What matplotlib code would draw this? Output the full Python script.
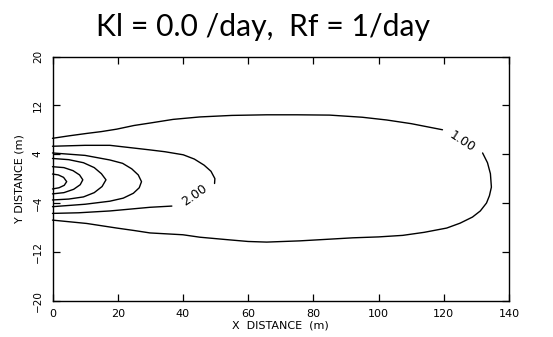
import matplotlib
matplotlib.use("Agg")
import matplotlib.pyplot as plt
from matplotlib import font_manager

# Concentration isolines of the plume, traced as (x, y) paths in metres.
# Lines broken by an inline label are split into separate pieces.
c1_top_x = [0.0, 5.0, 10.5, 15.0, 19.7, 25.0, 29.9, 37.0, 45.2, 55.0, 65.7, 75.0,
            85.0, 95.0, 102.5, 110.0, 119.6]
c1_top_y = [6.6, 7.0, 7.4, 7.7, 8.1, 8.7, 9.1, 9.7, 10.1, 10.35, 10.45, 10.45,
            10.4, 10.05, 9.6, 9.0, 8.0]
c1_rest_x = [131.9, 133.4, 134.3, 134.6, 134.0, 133.1, 131.2, 128.8, 125.0, 120.9,
             114.0, 107.4, 100.0, 92.1, 84.0, 75.8, 65.7, 60.0, 53.5, 45.2, 40.0,
             29.9, 25.0, 19.7, 10.5, 0.0]
c1_rest_y = [4.2, 2.6, 0.8, -1.4, -2.8, -4.0, -5.3, -6.3, -7.3, -8.1,
             -8.8, -9.3, -9.55, -9.7, -9.95, -10.2, -10.4, -10.3, -10.0, -9.6, -9.2,
             -8.9, -8.5, -8.1, -7.35, -6.8]

c2_top_x = [0.0, 10.0, 17.6, 25.0, 29.9, 34.5, 40.1, 43.5, 46.5, 48.6, 49.8, 49.7]
c2_top_y = [5.3, 5.45, 5.45, 5.0, 4.7, 4.4, 3.9, 3.2, 2.2, 1.2, 0.0, -0.8]
c2_bot_x = [36.6, 29.9, 17.6, 8.0, 0.0]
c2_bot_y = [-4.5, -4.7, -5.3, -5.6, -5.7]

c3_x = [0.0, 10.0, 17.6, 21.5, 24.3, 26.3, 27.3, 26.6, 24.8, 21.7, 17.6, 10.0, 0.0]
c3_y = [4.2, 3.8, 3.05, 2.5, 1.6, 0.6, -0.5, -1.5, -2.4, -3.2, -3.7, -4.2, -4.6]

c4_x = [0.0, 5.0, 9.5, 12.8, 15.0, 16.4, 15.2, 12.8, 9.5, 5.0, 0.0]
c4_y = [3.3, 3.1, 2.6, 1.8, 0.8, -0.2, -1.3, -2.3, -3.0, -3.35, -3.5]

c5_x = [0.0, 3.5, 6.3, 8.3, 9.3, 8.5, 6.5, 3.5, 0.0]
c5_y = [1.95, 1.8, 1.3, 0.6, -0.2, -1.0, -1.75, -2.3, -2.5]

c6_x = [0.0, 1.8, 3.4, 4.35, 3.6, 2.0, 0.0]
c6_y = [0.75, 0.6, 0.2, -0.5, -1.1, -1.5, -1.7]

# Inline contour labels: text, position, rotation
label_text = ["1.00", "2.00"]
label_x = [125.8, 43.7]
label_y = [6.1, -2.7]
label_rot = [-33, 35]

x_ticks = [0, 20, 40, 60, 80, 100, 120, 140]
y_ticks = [-20, -12, -4, 4, 12, 20]
y_tick_labels = ["\u221220", "\u221212", "\u22124", "4", "12", "20"]

title = "Kl = 0.0 /day,  Rf = 1/day"
x_label = "X  DISTANCE  (m)"
y_label = "Y DISTANCE (m)"

installed = {f.name for f in font_manager.fontManager.ttflist}
narrow = ["Liberation Sans Narrow", "DejaVu Sans"] if "Liberation Sans Narrow" in installed else ["DejaVu Sans"]
title_family = ["Lato", "DejaVu Sans"] if "Lato" in installed else ["DejaVu Sans"]

W, H = 553, 337
fig = plt.figure(figsize=(W / 100, H / 100), dpi=100)
ax = fig.add_axes([52.5 / W, 1 - 300.7 / H, (509 - 52.5) / W, (300.7 - 56.5) / H])

paths = [
    (c1_top_x, c1_top_y), (c1_rest_x, c1_rest_y),
    (c2_top_x, c2_top_y), (c2_bot_x, c2_bot_y),
    (c3_x, c3_y), (c4_x, c4_y), (c5_x, c5_y), (c6_x, c6_y),
]
for px, py in paths:
    ax.plot(px, py, color="black", lw=1.0, solid_joinstyle="round",
            solid_capstyle="round", clip_on=False)

for t, lx, ly, r in zip(label_text, label_x, label_y, label_rot):
    ax.text(lx, ly, t, rotation=r, ha="center", va="center", fontsize=9,
            family="DejaVu Sans", rotation_mode="anchor")

ax.set_xlim(0, 140)
ax.set_ylim(-20, 20)
ax.set_xticks(x_ticks)
ax.set_xticklabels([str(v) for v in x_ticks], fontsize=8)
ax.set_yticks(y_ticks)
ax.set_yticklabels(y_tick_labels, fontsize=7.5, rotation=90, va="center", family=narrow)
ax.tick_params(direction="in", length=5, width=0.9, top=True, right=True)
ax.tick_params(axis="x", pad=6)
ax.tick_params(axis="y", pad=7)
for s in ax.spines.values():
    s.set_linewidth(1.0)

ax.set_xlabel(x_label, fontsize=8, labelpad=1)
ax.set_ylabel(y_label, fontsize=8, family=narrow, labelpad=6)

# Title sized to span about 333 px
t = fig.text(263 / W, 1 - 27 / H, title, ha="center", va="center", fontsize=18,
             family=title_family, weight="normal", color="black")
r = fig.canvas.get_renderer()
w = t.get_window_extent(r).width
t.set_fontsize(18 * 333 / w)

fig.savefig("out.png", dpi=100)
